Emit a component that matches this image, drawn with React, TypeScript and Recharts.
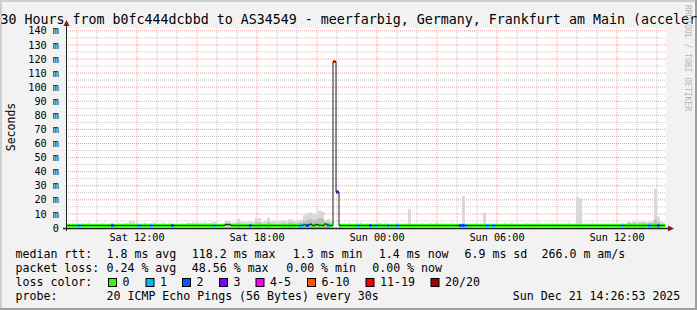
import React from 'react';
import { ComposedChart, XAxis, YAxis, Area, Line, Bar, Cell, CartesianGrid } from 'recharts';

// 30 hours ending Sun Dec 21 14:26:53, one column every 9 minutes
const startHour = 8.448; // Sat 08:26:53, hours since Sat 00:00
const stepHours = 0.15;
const spanHours = 30;
const yMax = 142;

// median rtt per column (ms)
const medianMs = [
  1.8, 1.8, 1.8, 1.8, 1.8, 1.8, 1.8, 1.8, 1.8, 1.8, 1.8, 1.8, 1.8, 1.8, 1.8, 1.8, 1.8, 1.8, 1.8, 1.8,
  1.8, 1.8, 1.8, 1.8, 1.8, 1.8, 1.8, 1.8, 1.8, 1.8, 1.8, 1.8, 1.8, 1.8, 1.8, 1.8, 1.8, 1.8, 1.8, 1.8,
  1.8, 1.8, 1.8, 1.8, 1.8, 1.8, 1.8, 1.8, 1.8, 1.8, 1.8, 1.8, 1.8, 2.5, 2.3, 1.8, 1.8, 1.8, 1.8, 1.8,
  1.8, 1.8, 1.8, 1.8, 1.8, 1.8, 1.8, 1.8, 1.8, 1.8, 1.8, 1.8, 1.8, 1.8, 1.8, 1.8, 1.8, 1.8, 1.8, 2.2,
  1.8, 2.6, 1.8, 2.4, 2.0, 1.8, 2.8, 2.0, 1.8, 118.2, 25.6, 1.8, 1.8, 1.8, 1.8, 1.8, 1.8, 1.8, 1.8, 1.8,
  1.8, 1.8, 1.8, 1.8, 1.8, 1.8, 1.8, 1.8, 1.8, 1.8, 1.8, 1.8, 1.8, 1.8, 1.8, 1.8, 1.8, 1.8, 1.8, 1.8,
  1.8, 1.8, 1.8, 1.8, 1.8, 1.8, 1.8, 1.8, 1.8, 1.8, 1.8, 1.8, 1.8, 1.8, 1.8, 1.8, 1.8, 1.8, 1.8, 1.8,
  1.8, 1.8, 1.8, 1.8, 1.8, 1.8, 1.8, 1.8, 1.8, 1.8, 1.8, 1.8, 1.8, 1.8, 1.8, 1.8, 1.8, 1.8, 1.8, 1.8,
  1.8, 1.8, 1.8, 1.8, 1.8, 1.8, 1.8, 1.8, 1.8, 1.8, 1.8, 1.8, 1.8, 1.8, 1.8, 1.8, 1.8, 1.8, 1.8, 1.8,
  1.8, 1.8, 1.8, 1.8, 1.8, 1.8, 1.8, 1.8, 1.8, 1.8, 1.8, 1.8, 1.8, 1.8, 1.8, 1.8, 1.8, 1.8, 1.8, 1.8,
];

// loss class per column: 0=0, 1=1, 2=2, 3=3, 4=4-5, 5=6-10, 6=11-19, 7=20/20
const lossLevel = [
  0, 0, 0, 0, 1, 0, 0, 0, 0, 0, 0, 0, 0, 0, 0, 2, 0, 0, 0, 0,
  0, 0, 0, 0, 1, 0, 0, 0, 1, 0, 0, 0, 0, 0, 0, 2, 0, 0, 0, 0,
  0, 0, 0, 0, 0, 0, 0, 0, 0, 1, 0, 0, 0, 0, 0, 0, 0, 0, 0, 0,
  0, 2, 0, 0, 0, 0, 0, 0, 0, 0, 0, 0, 0, 0, 0, 0, 0, 0, 1, 0,
  2, 1, 0, 0, 0, 0, 0, 1, 0, 5, 3, 0, 0, 0, 0, 0, 0, 1, 0, 0,
  0, 2, 0, 1, 0, 0, 0, 1, 0, 0, 1, 0, 0, 0, 0, 0, 0, 0, 0, 0,
  0, 0, 0, 0, 0, 0, 0, 0, 0, 0, 0, 2, 2, 1, 0, 0, 0, 0, 0, 0,
  1, 0, 1, 0, 0, 0, 0, 0, 0, 0, 0, 0, 0, 0, 0, 0, 0, 0, 0, 0,
  0, 0, 0, 0, 0, 0, 0, 0, 0, 0, 0, 0, 0, 0, 0, 0, 0, 0, 0, 0,
  0, 0, 0, 0, 0, 1, 0, 0, 0, 0, 0, 0, 0, 0, 1, 0, 0, 2, 0, 0,
];

// top of the light smoke (slowest pings), ms
const smokeHiMs = [
  3.2, 3.0, 3.4, 3.0, 3.0, 3.3, 3.0, 3.5, 3.0, 3.2, 3.0, 3.0, 3.4, 3.0, 3.2, 3.6, 3.0, 3.3, 3.0, 3.4,
  3.5, 5.0, 5.0, 3.4, 3.0, 3.2, 3.6, 3.0, 3.3, 3.8, 3.0, 3.2, 3.5, 3.0, 3.4, 3.0, 3.2, 3.0, 3.4, 3.0,
  3.8, 3.6, 4.0, 3.8, 3.5, 3.8, 4.0, 3.6, 3.8, 4.5, 3.2, 3.0, 3.4, 5.0, 5.0, 3.8, 4.0, 6.6, 4.2, 4.5,
  4.0, 4.8, 4.2, 7.3, 7.0, 4.5, 5.0, 7.3, 4.8, 5.2, 4.6, 5.0, 5.5, 4.8, 6.2, 6.0, 5.0, 5.4, 6.0, 9.0,
  10.5, 11.0, 9.5, 10.0, 12.5, 11.5, 5.7, 6.5, 5.0, 0, 0, 3.0, 3.2, 3.0, 3.4, 3.0, 3.0, 3.2, 3.5, 3.0,
  3.4, 3.0, 3.2, 3.0, 3.5, 3.0, 3.3, 3.0, 3.2, 3.0, 3.4, 3.0, 3.0, 3.2, 13.3, 3.0, 3.2, 3.0, 3.4, 3.0,
  3.0, 3.3, 3.0, 3.5, 3.0, 3.2, 3.0, 3.0, 3.4, 3.0, 3.2, 3.0, 22.7, 3.0, 3.2, 3.0, 3.4, 3.0, 3.2, 10.9,
  3.0, 3.2, 3.0, 3.4, 3.0, 3.0, 3.3, 3.0, 3.5, 3.0, 3.2, 3.0, 3.0, 3.4, 3.0, 3.2, 3.0, 3.3, 3.0, 3.0,
  3.2, 3.0, 3.4, 3.0, 3.0, 3.2, 3.0, 3.5, 3.0, 3.2, 21.8, 21.0, 3.0, 3.2, 3.0, 3.4, 3.0, 3.0, 3.2, 3.0,
  3.4, 3.0, 3.2, 3.0, 3.0, 3.4, 3.2, 4.5, 4.2, 4.6, 4.0, 4.5, 4.8, 4.2, 4.5, 5.0, 27.9, 8.0, 4.5, 4.0,
];

// top of the darker smoke, ms
const smokeMidMs = [
  0, 0, 0, 0, 0, 0, 0, 0, 0, 0, 0, 0, 0, 0, 0, 0, 0, 0, 0, 0,
  0, 0, 0, 0, 0, 0, 0, 0, 0, 0, 0, 0, 0, 0, 0, 0, 0, 0, 0, 0,
  0, 0, 0, 0, 0, 0, 0, 0, 0, 0, 0, 0, 0, 0, 0, 0, 0, 3.5, 0, 0,
  0, 0, 0, 4.0, 4.0, 0, 0, 4.0, 0, 0, 0, 0, 3.5, 0, 4.0, 3.8, 0, 3.5, 4.0, 5.0,
  6.0, 6.5, 5.5, 6.0, 7.0, 6.5, 3.8, 4.0, 0, 0, 0, 0, 0, 0, 0, 0, 0, 0, 0, 0,
  0, 0, 0, 0, 0, 0, 0, 0, 0, 0, 0, 0, 0, 0, 0, 0, 0, 0, 0, 0,
  0, 0, 0, 0, 0, 0, 0, 0, 0, 0, 0, 0, 0, 0, 0, 0, 0, 0, 0, 0,
  0, 0, 0, 0, 0, 0, 0, 0, 0, 0, 0, 0, 0, 0, 0, 0, 0, 0, 0, 0,
  0, 0, 0, 0, 0, 0, 0, 0, 0, 0, 0, 0, 0, 0, 0, 0, 0, 0, 0, 0,
  0, 0, 0, 0, 0, 0, 0, 3.5, 0, 3.5, 0, 3.5, 3.8, 0, 3.5, 3.8, 6.0, 4.0, 0, 0,
];

const lossColors = ['#26ff00', '#00b8ff', '#0059ff', '#7e00ff', '#ff00ff', '#ff5500', '#ff0000', '#a10000'];
const lossLabels = ['0', '1', '2', '3', '4-5', '6-10', '11-19', '20/20'];

const xTickHours = [12, 18, 24, 30, 36];
const xTickLabels = ['Sat 12:00', 'Sat 18:00', 'Sun 00:00', 'Sun 06:00', 'Sun 12:00'];
const yTicks = [0, 10, 20, 30, 40, 50, 60, 70, 80, 90, 100, 110, 120, 130, 140];
const minorHours = [10, 11, 13, 14, 16, 17, 19, 20, 22, 23, 25, 26, 28, 29, 31, 32, 34, 35, 37, 38];
const majorHours = [9, 12, 15, 18, 21, 24, 27, 30, 33, 36];
const minorMs = [5, 15, 25, 35, 45, 55, 65, 75, 85, 95, 105, 115, 125, 135];
const majorMs = [10, 20, 30, 40, 50, 60, 70, 80, 90, 100, 110, 120, 130, 140];

const statLines = [
  { y: 258, parts: [[15.5, 'median rtt:'], [106.5, '1.8 ms avg'], [191.8, '118.2 ms max'], [292.8, '1.3 ms min'], [378.8, '1.4 ms now'], [464.5, '6.9 ms sd'], [541.5, '266.0 m am/s']] },
  { y: 272, parts: [[15.5, 'packet loss:'], [106.5, '0.24 % avg'], [191.8, '48.56 % max'], [286.2, '0.00 % min'], [372.2, '0.00 % now']] },
  { y: 300, parts: [[15.5, 'probe:'], [106.5, '20 ICMP Echo Pings (56 Bytes) every 30s'], [512.8, 'Sun Dec 21 14:26:53 2025']] },
];
const lossBoxX = [108, 145.5, 182, 219, 255.5, 307, 365.5, 430.5];

const rows = medianMs.map((m, i) => ({
  t: startHour + (i + 0.5) * stepHours,
  median: m,
  band: [m - 1.1, m + 1.1],
  loss: lossLevel[i],
  smokeHi: smokeHiMs[i],
  smokeMid: smokeMidMs[i],
}));

const mono = '"DejaVu Sans Mono", monospace';

export default function App() {
  return (
    <div style={{ position: 'absolute', left: 0, top: 0, width: 697, height: 310, background: '#f2f2f2', overflow: 'hidden' }}>
      <ComposedChart width={697} height={310} data={rows} margin={{ top: 28, right: 31, bottom: 62, left: 0 }}>
        <CartesianGrid
          fill="#ffffff"
          stroke="#c8c8c8"
          strokeDasharray="1 1"
          verticalValues={minorHours}
          horizontalValues={minorMs}
        />
        <CartesianGrid
          stroke="#e8a0a0"
          strokeDasharray="1 1"
          verticalValues={majorHours}
          horizontalValues={majorMs}
        />
        <XAxis
          dataKey="t"
          type="number"
          domain={[startHour, startHour + spanHours]}
          allowDataOverflow
          ticks={xTickHours}
          interval={0}
          tickFormatter={(v) => xTickLabels[xTickHours.indexOf(v)]}
          axisLine={false}
          tickLine={false}
          tickSize={0}
          tickMargin={6}
          height={20}
          tick={{ fill: '#000', fontSize: 10.2, fontFamily: mono }}
        />
        <YAxis
          type="number"
          domain={[0, yMax]}
          allowDataOverflow
          ticks={yTicks}
          interval={0}
          tickFormatter={(v) => (v === 0 ? '0' : `${v} m`)}
          axisLine={false}
          tickLine={false}
          tickSize={0}
          tickMargin={7}
          width={66}
          tick={{ fill: '#000', fontSize: 10.2, fontFamily: mono }}
        />
        <Area type="step" dataKey="smokeHi" stroke="none" fill="#d8d8d8" fillOpacity={1} dot={false} activeDot={false} isAnimationActive={false} />
        <Area type="step" dataKey="smokeMid" stroke="none" fill="#bdbdbd" fillOpacity={1} dot={false} activeDot={false} isAnimationActive={false} />
        <Line type="step" dataKey="median" stroke="#202020" strokeWidth={1} dot={false} activeDot={false} isAnimationActive={false} />
        <Bar dataKey="band" barSize={3} isAnimationActive={false}>
          {rows.map((r, i) => (
            <Cell key={i} fill={lossColors[r.loss]} />
          ))}
        </Bar>
      </ComposedChart>
      <svg width={697} height={310} style={{ position: 'absolute', left: 0, top: 0 }}>
        <rect x={0} y={0} width={697} height={2} fill="#cfcfcf" />
        <rect x={0} y={0} width={2} height={310} fill="#cfcfcf" />
        <rect x={695} y={0} width={2} height={310} fill="#9e9e9e" />
        <rect x={0} y={308} width={697} height={2} fill="#9e9e9e" />
        <text x={0.5} y={24} fontFamily={mono} fontSize={13.3} fill="#000">
          30 Hours from b0fc444dcbbd to AS34549 - meerfarbig, Germany, Frankfurt am Main (acceler
        </text>
        <text transform="translate(685,5) rotate(90)" x={0} y={0} fontFamily={mono} fontSize={8} fill="#b4b4b4">
          RRDTOOL / TOBI OETIKER
        </text>
        <text transform="translate(15,127) rotate(-90)" x={0} y={0} textAnchor="middle" fontFamily={mono} fontSize={11.5} fill="#000">
          Seconds
        </text>
        <line x1={66.5} y1={231} x2={66.5} y2={24} stroke="#1f1f1f" strokeWidth={1} />
        <polygon points="63.5,26 69.5,26 66.5,20" fill="#801f1f" />
        <line x1={63} y1={228.5} x2={668} y2={228.5} stroke="#1f1f1f" strokeWidth={1.5} />
        <polygon points="668,225.5 668,231.5 674,228.5" fill="#801f1f" />
        {statLines.map((row) =>
          row.parts.map(([x, s]) => (
            <text key={`${row.y}-${x}`} x={x as number} y={row.y} fontFamily={mono} fontSize={11.6} fill="#000">
              {s}
            </text>
          ))
        )}
        <text x={15.5} y={286} fontFamily={mono} fontSize={11.6} fill="#000">loss color:</text>
        {lossLabels.map((lab, i) => (
          <g key={lab}>
            <rect x={lossBoxX[i] + 0.5} y={278.5} width={8} height={8} fill={lossColors[i]} stroke="#000" strokeWidth={1} />
            <text x={lossBoxX[i] + 14.5} y={286} fontFamily={mono} fontSize={11.6} fill="#000">{lab}</text>
          </g>
        ))}
      </svg>
    </div>
  );
}
